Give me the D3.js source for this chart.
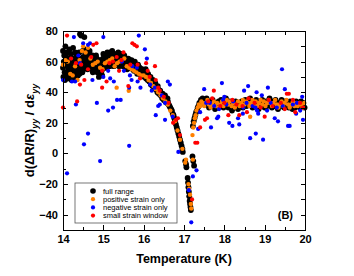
<!DOCTYPE html>
<html lang="en">
<head>
<meta charset="utf-8">
<title>dR/R vs temperature</title>
<script src="https://d3js.org/d3.v7.min.js"></script>
<style>
  body { margin: 0; background: #fff; }
  svg text { font-family: "Liberation Sans", Arial, sans-serif; }
  .axis path, .axis line { stroke: #000; shape-rendering: crispEdges; }
  .axis path { stroke-width: 1.5; }
  .axis text { font-size: 11px; font-weight: bold; fill: #000; }
</style>
</head>
<body>
<div id="chart"></div>
<script>
// [temperature (K), d(dR/R)/d eps]
var fullRange = [
  [14.00,67],[14.00,56],[14.01,50],[14.03,64],[14.04,53],[14.06,70],[14.07,58],[14.09,52],[14.10,66],[14.11,49],
  [14.13,55],[14.14,62],[14.16,68],[14.17,53],[14.19,50],[14.20,65],[14.22,57],[14.23,54],[14.25,69],[14.27,60],
  [14.28,52],[14.30,66],[14.31,56],[14.33,50],[14.35,62],[14.36,54],[14.38,58],[14.40,66],[14.41,52],[14.42,78],
  [14.44,55],[14.45,77],[14.47,60],[14.48,53],[14.50,63],[14.52,57],[14.53,76],[14.55,60],[14.57,65],[14.58,56],
  [14.60,62],[14.62,59],[14.63,66],[14.65,57],[14.67,63],[14.68,58],[14.70,60],[14.72,55],[14.73,64],[14.75,58],
  [14.77,62],[14.78,56],[14.80,60],[14.82,64],[14.83,57],[14.85,53],[14.87,61],[14.88,55],[14.90,58],[14.92,52],
  [14.93,61],[14.95,55],[14.97,51],[14.98,58],[15.00,65],[15.02,60],[15.03,63],[15.05,58],[15.07,64],[15.08,60],
  [15.10,66],[15.12,61],[15.13,58],[15.15,63],[15.17,66],[15.18,60],[15.20,62],[15.22,67],[15.23,59],[15.25,63],
  [15.27,60],[15.28,65],[15.30,61],[15.32,58],[15.33,63],[15.35,60],[15.37,66],[15.38,62],[15.40,59],[15.42,64],
  [15.43,60],[15.45,62],[15.47,58],[15.48,63],[15.50,60],[15.52,64],[15.53,59],[15.55,62],[15.57,58],[15.58,61],
  [15.60,57],[15.62,62],[15.63,58],[15.65,60],[15.67,56],[15.68,59],[15.70,61],[15.72,57],[15.73,55],[15.75,59],
  [15.77,56],[15.78,60],[15.80,57],[15.82,54],[15.83,58],[15.85,55],[15.87,57],[15.88,53],[15.90,56],[15.92,52],
  [15.93,55],[15.95,53],[15.97,51],[15.98,54],
  [14.02,60],[14.05,48],[14.08,63],[14.12,57],[14.15,51],[14.18,60],[14.21,48],[14.24,62],[14.26,56],[14.29,49],
  [14.32,59],[14.34,64],[14.37,51],[14.39,61],[14.43,57],[14.46,62],[14.49,67],[14.51,55],[14.54,68],[14.56,58],
  [14.59,67],[14.61,55],[14.64,61],[14.66,67],[14.69,56],[14.71,62],[14.74,53],[14.76,59],[14.79,54],[14.81,58],
  [14.84,62],[14.86,56],[14.89,50],[14.91,59],[14.94,57],[14.96,54],[14.99,62],[15.01,56],[15.04,61],[15.06,56],
  [15.09,62],[15.11,58],[15.14,60],[15.16,57],[15.19,64],[15.21,58],[15.24,61],[15.26,57],[15.29,62],[15.31,64],
  [15.34,58],[15.36,63],[15.39,57],[15.41,61],[15.44,65],[15.46,59],[15.49,57],[15.51,62],[15.54,57],[15.56,60],
  [15.59,55],[15.61,59],[15.64,56],[15.66,61],[15.69,57],[15.71,59],[15.74,57],[15.76,54],[15.79,58],[15.81,56],
  [15.84,52],[15.86,58],[15.89,55],[15.91,54],[15.94,51],[15.96,55],[15.99,52],
  [16.00,52],[16.02,50],[16.04,53],[16.06,49],[16.08,51],[16.10,48],[16.12,50],[16.14,47],[16.16,48],[16.18,45],
  [16.20,47],[16.22,44],[16.24,46],[16.26,43],[16.28,44],[16.30,42],[16.32,43],[16.34,40],[16.36,42],[16.38,39],
  [16.40,40],[16.42,38],[16.44,39],[16.46,36],[16.48,37],[16.50,35],[16.52,36],[16.54,34],[16.56,35],[16.58,33],
  [16.60,34],[16.62,32],[16.64,31],[16.66,30],[16.68,29],[16.70,28],[16.72,26],[16.74,25],[16.76,23],[16.78,21],
  [16.80,19],[16.82,17],[16.84,15],[16.86,13],[16.88,11],[16.90,9],[16.92,7],[16.94,5],[16.96,3],[16.97,1],
  [16.05,55],[16.11,52],[16.17,50],[16.23,48],[16.29,46],[16.35,44],[16.41,41],[16.47,39],[16.53,38],[16.59,36],
  [17.03,-5],[17.05,-7],[17.06,-9],[17.09,-16],[17.10,-19],[17.11,-22],[17.12,-25],[17.13,-28],[17.14,-31],[17.15,-33],
  [17.16,-35],[17.17,-37],[17.21,-2],[17.23,-5],[17.25,-8],
  [17.22,18],[17.24,21],[17.26,23],[17.28,25],[17.30,27],[17.32,28],[17.34,30],[17.36,31],[17.38,33],[17.40,32],
  [17.42,35],[17.44,34],[17.46,36],[17.48,33],
  [17.50,35],[17.53,32],[17.56,36],[17.59,33],[17.62,30],[17.65,34],[17.68,31],[17.71,35],[17.74,32],[17.77,29],
  [17.80,33],[17.83,30],[17.86,34],[17.89,31],[17.92,35],[17.95,32],[17.98,30],[18.01,33],[18.04,36],[18.07,32],
  [18.10,30],[18.13,34],[18.16,31],[18.19,28],[18.22,32],[18.25,30],[18.28,34],[18.31,31],[18.34,29],[18.37,33],
  [18.40,31],[18.43,34],[18.46,30],[18.49,33],[18.52,35],[18.55,31],[18.58,34],[18.61,32],[18.64,36],[18.67,33],
  [18.70,30],[18.73,34],[18.76,31],[18.79,35],[18.82,32],[18.85,29],[18.88,33],[18.91,31],[18.94,35],[18.97,32],
  [19.00,30],[19.03,34],[19.06,31],[19.09,33],[19.12,36],[19.15,32],[19.18,30],[19.21,34],[19.24,31],[19.27,35],
  [19.30,32],[19.33,29],[19.36,33],[19.39,31],[19.42,35],[19.45,32],[19.48,30],[19.51,34],[19.54,31],[19.57,33],
  [19.60,30],[19.63,34],[19.66,31],[19.69,29],[19.72,33],[19.75,30],[19.78,34],[19.81,31],[19.84,33],[19.87,30],
  [19.90,34],[19.93,31],[19.96,33],[19.99,30]
];

var positiveOnly = [
  [14.00,58],[14.06,61],[14.12,60],[14.18,52],[14.24,51],[14.30,57],[14.36,48],[14.41,61],[14.47,67],[14.50,70],
  [14.56,66],[14.62,69],[14.68,62],[14.74,58],[14.80,59],[14.86,60],[14.92,56],[14.98,55],[15.04,59],[15.10,60],
  [15.16,61],[15.22,62],[15.28,57],[15.33,43],[15.34,59],[15.40,60],[15.46,61],[15.52,62],[15.58,57],[15.63,41],
  [15.64,56],[15.70,55],[15.76,54],[15.82,53],[15.88,52],[15.94,51],
  [16.00,51],[16.06,50],[16.12,48],[16.18,46],[16.24,44],[16.30,42],[16.36,40],[16.42,38],[16.48,36],[16.54,34],
  [16.60,32],[16.66,28],[16.72,25],[16.78,21],[16.84,15],[16.90,9],[16.96,3],
  [17.03,-6],[17.05,-4],[17.11,-20],[17.13,-23],[17.15,-27],[17.17,-33],[17.18,-36],[17.22,-4],
  [17.21,12],[17.23,17],[17.25,20],[17.27,23],[17.29,25],[17.31,28],[17.34,30],[17.37,32],[17.40,31],[17.43,34],
  [17.46,33],
  [17.50,31],[17.54,33],[17.58,35],[17.62,32],[17.66,30],[17.70,32],[17.74,34],[17.78,31],[17.82,33],[17.86,30],
  [17.90,32],[17.94,34],[17.98,31],[18.02,33],[18.06,35],[18.10,32],[18.14,34],[18.18,31],[18.22,33],[18.26,30],
  [18.30,32],[18.34,34],[18.38,31],[18.42,33],[18.46,35],[18.50,32],[18.54,34],[18.58,33],[18.62,31],[18.64,24],
  [18.66,33],[18.70,35],[18.74,32],[18.78,34],[18.82,31],[18.86,33],[18.90,35],[18.94,32],[18.98,34],[19.02,31],
  [19.06,33],[19.10,35],[19.14,33],[19.18,31],[19.22,33],[19.26,35],[19.30,32],[19.34,30],[19.38,32],[19.42,34],
  [19.46,31],[19.50,33],[19.54,35],[19.58,32],[19.62,30],[19.66,32],[19.70,34],[19.74,31],[19.78,33],[19.82,31],
  [19.86,33],[19.90,32],[19.94,30],[19.98,33]
];

var negativeOnly = [
  [14.00,48],[14.10,-13],[14.22,47],[14.27,76],[14.30,47],[14.32,32],[14.38,64],[14.42,59],[14.50,72],[14.52,6],
  [14.62,13],[14.62,71],[14.67,72],[14.73,48],[14.84,33],[14.92,-5],[15.00,76],[15.00,50],[15.12,54],[15.12,28],
  [15.17,49],[15.24,30],[15.26,47],[15.34,35],[15.43,35],[15.46,60],[15.51,54],[15.64,43],[15.64,5],[15.66,51],
  [15.70,48],[15.72,57],[15.83,56],[15.85,47],[15.88,77],[15.92,43],[16.03,68],[16.08,62],[16.16,45],[16.20,41],
  [16.28,43],[16.30,25],[16.36,31],[16.40,32],[16.45,38],[16.53,33],[16.53,22],[16.60,47],[16.65,45],[16.72,24],
  [16.86,1],[17.12,-24],[17.18,-45],[17.22,-15],[17.31,-11],
  [17.35,16],[17.40,27],[17.50,42],[17.55,33],[17.64,33],[17.67,17],[17.75,31],[17.82,23],[17.85,24],[17.87,29],
  [17.94,46],[17.97,35],[18.00,37],[18.05,32],[18.12,20],[18.20,18],[18.22,34],[18.34,23],[18.37,19],[18.46,26],
  [18.47,30],[18.49,41],[18.55,33],[18.59,44],[18.64,10],[18.70,31],[18.77,30],[18.78,13],[18.80,40],[18.81,28],
  [18.84,26],[18.93,38],[18.96,9],[19.06,28],[19.08,43],[19.15,33],[19.25,23],[19.30,30],[19.33,21],[19.43,55],
  [19.45,31],[19.50,42],[19.58,18],[19.62,18],[19.70,32],[19.78,26],[19.80,33],[19.88,28],[19.93,37],[19.95,22]
];

var smallWindow = [
  [14.00,30],[14.10,77],[14.20,62],[14.32,59],[14.35,34],[14.42,45],[14.45,58],[14.53,48],[14.62,55],[14.70,63],
  [14.75,71],[14.83,72],[14.97,43],[14.97,54],[15.08,47],[15.15,59],[15.24,60],[15.33,63],[15.39,54],[15.45,61],
  [15.50,66],[15.62,44],[15.67,58],[15.72,72],[15.77,71],[15.83,70],[15.85,58],[15.91,49],[16.06,59],[16.10,54],
  [16.15,50],[16.28,57],[16.30,48],[16.36,43],[16.40,41],[16.50,37],[16.62,33],[16.73,20],[16.80,22],[16.85,23],
  [16.90,12],[17.20,-30],[17.28,7],[17.33,7],[17.40,17],[17.52,22],[17.57,23],[17.60,34],[17.70,36],[17.74,41],
  [17.90,31],[18.00,33],[18.10,25],[18.20,35],[18.30,32],[18.37,25],[18.45,31],[18.56,27],[18.60,36],[18.75,33],
  [18.90,30],[19.00,24],[19.10,35],[19.20,31],[19.40,33],[19.50,29],[19.55,39],[19.60,39],[19.70,35],[19.76,27],
  [19.88,33],[19.95,30]
];

var xTicks = [14, 15, 16, 17, 18, 19, 20];
var xMinor = [14.5, 15.5, 16.5, 17.5, 18.5, 19.5];
var yTicks = [-40, -20, 0, 20, 40, 60, 80];
var yMinor = [-50, -30, -10, 10, 30, 50, 70];
var seriesNames = ["full range", "positive strain only", "negative strain only", "small strain  window"];
var seriesColors = ["#000000", "#ff8000", "#0000ff", "#ff0000"];

var W = 354, H = 276;
var margin = {top: 31, right: 49, bottom: 46, left: 63};

var svg = d3.select("#chart").append("svg")
    .attr("width", W)
    .attr("height", H);

var x = d3.scaleLinear().domain([14, 20]).range([margin.left, W - margin.right]);
var y = d3.scaleLinear().domain([-50, 80]).range([H - margin.bottom, margin.top]);

// points: black first, the others over it
var radius = [2.9, 2.2, 2.1, 2.1];
var order = [0, 1, 2, 3];
var allSeries = [fullRange, positiveOnly, negativeOnly, smallWindow];
order.forEach(function(k) {
  svg.append("g")
    .selectAll("circle")
    .data(allSeries[k])
    .enter()
    .append("circle")
      .attr("cx", function(d) { return x(d[0]); })
      .attr("cy", function(d) { return y(d[1]); })
      .attr("r", radius[k])
      .attr("fill", seriesColors[k]);
});

// axes, ticks pointing inward
var yB = H - margin.bottom, yT = margin.top, xL = margin.left, xR = W - margin.right;

svg.append("g").attr("class", "axis")
  .attr("transform", "translate(0," + yB + ")")
  .call(d3.axisBottom(x).tickValues(xTicks).tickSizeInner(-5).tickSizeOuter(0).tickPadding(5).tickFormat(d3.format("d")));
svg.append("g").attr("class", "axis")
  .attr("transform", "translate(0," + yB + ")")
  .call(d3.axisBottom(x).tickValues(xMinor).tickSizeInner(-3).tickSizeOuter(0).tickFormat(""));
svg.append("g").attr("class", "axis")
  .attr("transform", "translate(0," + yT + ")")
  .call(d3.axisTop(x).tickValues(xTicks.concat(xMinor)).tickSizeInner(-4).tickSizeOuter(0).tickFormat(""));

svg.append("g").attr("class", "axis")
  .attr("transform", "translate(" + xL + ",0)")
  .call(d3.axisLeft(y).tickValues(yTicks).tickSizeInner(-5).tickSizeOuter(0).tickPadding(5).tickFormat(d3.format("d")));
svg.append("g").attr("class", "axis")
  .attr("transform", "translate(" + xL + ",0)")
  .call(d3.axisLeft(y).tickValues(yMinor).tickSizeInner(-3).tickSizeOuter(0).tickFormat(""));
svg.append("g").attr("class", "axis")
  .attr("transform", "translate(" + xR + ",0)")
  .call(d3.axisRight(y).tickValues(yTicks.concat(yMinor)).tickSizeInner(-4).tickSizeOuter(0).tickFormat(""));

// axis titles
svg.append("text")
  .attr("x", (xL + xR) / 2)
  .attr("y", 263)
  .attr("text-anchor", "middle")
  .style("font-size", "12.5px")
  .style("font-weight", "bold")
  .text("Temperature (K)");

var yl = svg.append("text")
  .attr("transform", "translate(34," + ((yT + yB) / 2) + ") rotate(-90)")
  .attr("text-anchor", "middle")
  .style("font-size", "13px")
  .style("font-weight", "bold");
yl.append("tspan").text("d(\u0394R/R)");
yl.append("tspan").attr("dy", 4).style("font-size", "9px").style("font-style", "italic").text("yy");
yl.append("tspan").attr("dy", -4).text(" / d");
yl.append("tspan").style("font-style", "italic").text("\u03b5");
yl.append("tspan").attr("dy", 4).style("font-size", "9px").style("font-style", "italic").text("yy");

svg.append("text")
  .attr("x", 293)
  .attr("y", 219)
  .attr("text-anchor", "end")
  .style("font-size", "11px")
  .style("font-weight", "bold")
  .text("(B)");

// legend
var lg = svg.append("g").attr("transform", "translate(75,183)");
lg.append("rect")
  .attr("width", 102).attr("height", 40)
  .attr("fill", "#fff").attr("stroke", "#555").attr("stroke-width", 0.8);
seriesNames.forEach(function(name, i) {
  var ry = 8 + i * 8.2;
  lg.append("circle")
    .attr("cx", 18).attr("cy", ry)
    .attr("r", i == 0 ? 2.8 : 2.1)
    .attr("fill", seriesColors[i]);
  lg.append("text")
    .attr("x", 28).attr("y", ry).attr("dy", "0.35em")
    .style("font-size", "7.5px")
    .text(name);
});
</script>
</body>
</html>
